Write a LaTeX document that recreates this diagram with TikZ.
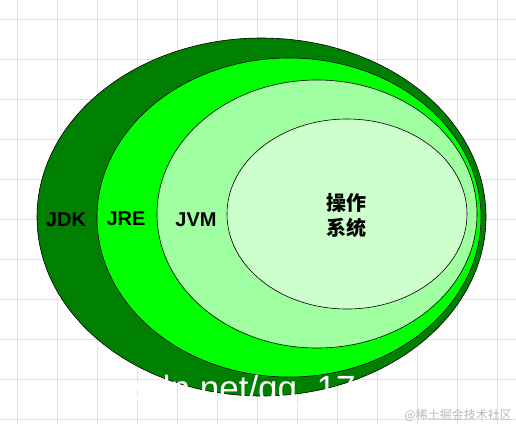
\documentclass[tikz,border=0pt]{standalone}
\usepackage{fontspec}
\setmainfont{Liberation Sans}
\newfontfamily\cjk{Noto Sans CJK SC}
\usetikzlibrary{shapes.geometric}
\definecolor{jdkgreen}{HTML}{008000}
\definecolor{jregreen}{HTML}{00FF00}
\definecolor{jvmgreen}{HTML}{A0FFA0}
\definecolor{osgreen}{HTML}{CCFFCC}
\definecolor{gridgray}{HTML}{E2E2E2}
\begin{document}
\begin{tikzpicture}[
    x=1pt, y=-1pt,
    every node/.style={font=\fontsize{20}{25}\selectfont\bfseries},
    layer/.style={ellipse, draw=black, line width=0.6pt, inner sep=0pt},
    jdk/.style={layer, fill=jdkgreen},
    jre/.style={layer, fill=jregreen},
    jvm/.style={layer, fill=jvmgreen},
    os/.style={layer, fill=osgreen},
    tag/.style={inner sep=0pt, text=black},
    gridline/.style={draw=gridgray, line width=0.8pt},
    watermark/.style={inner sep=0pt, font=\fontsize{35}{35}\selectfont, text=white}
]
\useasboundingbox (0,0) rectangle (516,424);
\fill[white] (0,0) rectangle (516,424);

% Background grid
\foreach \x in {17,57,...,497} \draw[gridline] (\x,0) -- (\x,424);
\foreach \y in {19,59,...,419} \draw[gridline] (0,\y) -- (516,\y);

% Nested layers, outside in
\node[jdk, minimum width=449pt, minimum height=358pt] (jdkarea) at (261.5,217) {};
\node[jre, minimum width=384pt, minimum height=319pt] (jrearea) at (289,217.5) {};
\node[jvm, minimum width=320pt, minimum height=268pt] (jvmarea) at (317,214) {};
\node[os, minimum width=240pt, minimum height=190pt] (osarea) at (347,214) {};

% Layer names
\node[tag] (jdklabel) at (66,220) {JDK};
\node[tag] (jrelabel) at (126,218.5) {JRE};
\node[tag] (jvmlabel) at (196,220) {JVM};
\node[tag, align=center, font=\cjk\fontsize{20}{25}\selectfont\bfseries] (oslabel) at (346,215.5) {操作\\系统};

% Watermarks
\node[watermark, anchor=base west] (csdnmark) at (116,400) {csdn.net/qq\_17};
\node[inner sep=0pt, anchor=east, text=gray!55, font=\cjk\fontsize{12}{12}\selectfont] (juejinmark) at (512,415) {@稀土掘金技术社区};

\end{tikzpicture}
\end{document}
